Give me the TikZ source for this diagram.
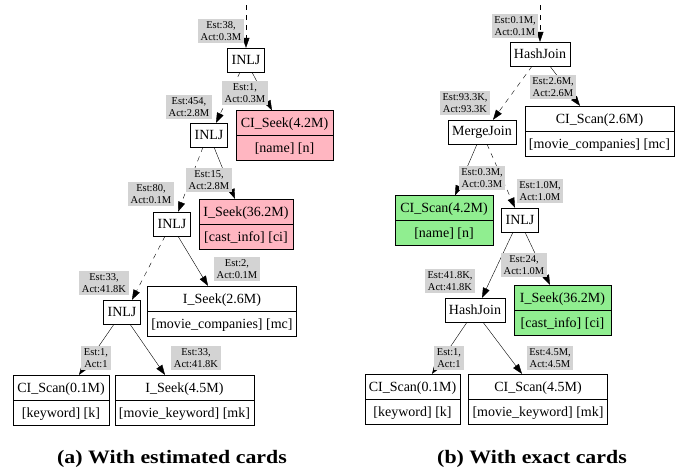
\documentclass[tikz,border=0pt]{standalone}
\usepackage{fontspec}
\setmainfont{Liberation Serif}
\newfontfamily\capfont[FakeStretch=1.15]{Liberation Serif}
\usepackage{tikz}
\usetikzlibrary{shapes.multipart,arrows.meta}
\definecolor{seekpink}{RGB}{255,182,193}
\definecolor{scangreen}{RGB}{144,238,144}
\definecolor{cardgray}{RGB}{211,211,211}
\newcommand\tbltext[2]{\rule[-7.5pt]{0pt}{24.5pt}#1\nodepart{two}\rule[-7.5pt]{0pt}{24.5pt}#2}
\tikzset{>={Triangle[length=10pt,width=7pt]}, line width=0.8pt,
	op/.style={draw, minimum height=24pt, inner xsep=4pt, inner ysep=0pt, font=\fontsize{14}{16}\selectfont},
	tbl/.style={draw, rectangle split, rectangle split parts=2, inner xsep=4pt, inner ysep=0pt, font=\fontsize{14}{16}\selectfont},
	card/.style={fill=cardgray, inner xsep=2.5pt, inner ysep=2pt, align=center, font=\fontsize{10.5}{12}\selectfont},
	lazy/.style={dash pattern=on 5pt off 5pt},
	captext/.style={anchor=base, font=\capfont\bfseries\fontsize{19}{22}\selectfont}}

\begin{document}
\begin{tikzpicture}[x=1pt,y=-1pt]
		\useasboundingbox (0,0) rectangle (684,471);
		\node(inlja)[op] at (246,60){INLJ};
		\node(inljb)[op] at (209,135){INLJ};
		\node(inljc)[op] at (172,224){INLJ};
		\node(inljd)[op] at (122,312){INLJ};
		\node(seekn)[tbl,fill=seekpink,minimum width=97pt] at (284.5,135.5){\tbltext{CI\_Seek(4.2M)}{[name] [n]}};
		\node(seekci)[tbl,fill=seekpink,minimum width=94pt] at (246,224){\tbltext{I\_Seek(36.2M)}{[cast\_info] [ci]}};
		\node(seekmc)[tbl,minimum width=148pt] at (222,311){\tbltext{I\_Seek(2.6M)}{[movie\_companies] [mc]}};
		\node(scank)[tbl,minimum width=96pt] at (61,400){\tbltext{CI\_Scan(0.1M)}{[keyword] [k]}};
		\node(seekmk)[tbl,minimum width=135pt] at (184.5,400){\tbltext{I\_Seek(4.5M)}{[movie\_keyword] [mk]}};
		\coordinate(topa) at (246,5);
		\draw[->,lazy](topa) -- (inlja);
		\draw[->,lazy]([xshift=-6pt]inlja.south) -- ([xshift=7pt]inljb.north);
		\draw[->]([xshift=6pt]inlja.south) -- ([xshift=-12.5pt]seekn.north);
		\draw[->,lazy]([xshift=-6pt]inljb.south) -- ([xshift=6pt]inljc.north);
		\draw[->]([xshift=5pt]inljb.south) -- ([xshift=-11pt]seekci.north);
		\draw[->,lazy]([xshift=-7pt]inljc.south) -- ([xshift=10pt]inljd.north);
		\draw[->]([xshift=6pt]inljc.south) -- ([xshift=-14pt]seekmc.north);
		\draw[->]([xshift=-8pt]inljd.south) -- ([xshift=18pt]scank.north);
		\draw[->]([xshift=8pt]inljd.south) -- ([xshift=-19.5pt]seekmk.north);
		\node(ca1)[card] at (221,31){Est:38,\\Act:0.3M};
		\node(ca2)[card] at (189,107){Est:454,\\Act:2.8M};
		\node(ca3)[card] at (245,93){Est:1,\\Act:0.3M};
		\node(ca4)[card] at (151,194){Est:80,\\Act:0.1M};
		\node(ca5)[card] at (209,180){Est:15,\\Act:2.8M};
		\node(ca6)[card] at (104,283){Est:33,\\Act:41.8K};
		\node(ca7)[card] at (237,269){Est:2,\\Act:0.1M};
		\node(ca8)[card] at (96,358){Est:1,\\Act:1};
		\node(ca9)[card] at (196,358){Est:33,\\Act:41.8K};
		\node(hja)[op] at (540,54){HashJoin};
		\node(mj)[op] at (482,132){MergeJoin};
		\node(inljr)[op] at (520,220){INLJ};
		\node(hjb)[op] at (475,310){HashJoin};
		\node(scanmc)[tbl,minimum width=149pt] at (599.5,131){\tbltext{CI\_Scan(2.6M)}{[movie\_companies] [mc]}};
		\node(scann)[tbl,fill=scangreen,minimum width=98pt] at (444,220.5){\tbltext{CI\_Scan(4.2M)}{[name] [n]}};
		\node(seekcir)[tbl,fill=scangreen,minimum width=97pt] at (562.5,310){\tbltext{I\_Seek(36.2M)}{[cast\_info] [ci]}};
		\node(scankr)[tbl,minimum width=95pt] at (412.5,399){\tbltext{CI\_Scan(0.1M)}{[keyword] [k]}};
		\node(scanmk)[tbl,minimum width=138pt] at (538,399){\tbltext{CI\_Scan(4.5M)}{[movie\_keyword] [mk]}};
		\coordinate(topb) at (540,5);
		\draw[->,lazy](topb) -- (hja);
		\draw[->,lazy]([xshift=-8pt]hja.south) -- ([xshift=11pt]mj.north);
		\draw[->]([xshift=10pt]hja.south) -- ([xshift=-19.5pt]scanmc.north);
		\draw[->]([xshift=-5pt]mj.south) -- ([xshift=11pt]scann.north);
		\draw[->,lazy]([xshift=5pt]mj.south) -- ([xshift=-5pt]inljr.north);
		\draw[->]([xshift=-7pt]inljr.south) -- ([xshift=7pt]hjb.north);
		\draw[->]([xshift=5pt]inljr.south) -- ([xshift=-12.5pt]seekcir.north);
		\draw[->]([xshift=-8pt]hjb.south) -- ([xshift=19.5pt]scankr.north);
		\draw[->]([xshift=8pt]hjb.south) -- ([xshift=-16pt]scanmk.north);
		\node(cb1)[card] at (515,26){Est:0.1M,\\Act:0.1M};
		\node(cb2)[card] at (465,103){Est:93.3K,\\Act:93.3K};
		\node(cb3)[card] at (553,87){Est:2.6M,\\Act:2.6M};
		\node(cb4)[card] at (482,178){Est:0.3M,\\Act:0.3M};
		\node(cb5)[card] at (540,191){Est:1.0M,\\Act:1.0M};
		\node(cb6)[card] at (450,281){Est:41.8K,\\Act:41.8K};
		\node(cb7)[card] at (524,265){Est:24,\\Act:1.0M};
		\node(cb8)[card] at (449,358){Est:1,\\Act:1};
		\node(cb9)[card] at (550,358){Est:4.5M,\\Act:4.5M};
		\node(capa)[captext] at (172,463){(a) With estimated cards};
		\node(capb)[captext] at (532,463){(b) With exact cards};
	\end{tikzpicture}
\end{document}
